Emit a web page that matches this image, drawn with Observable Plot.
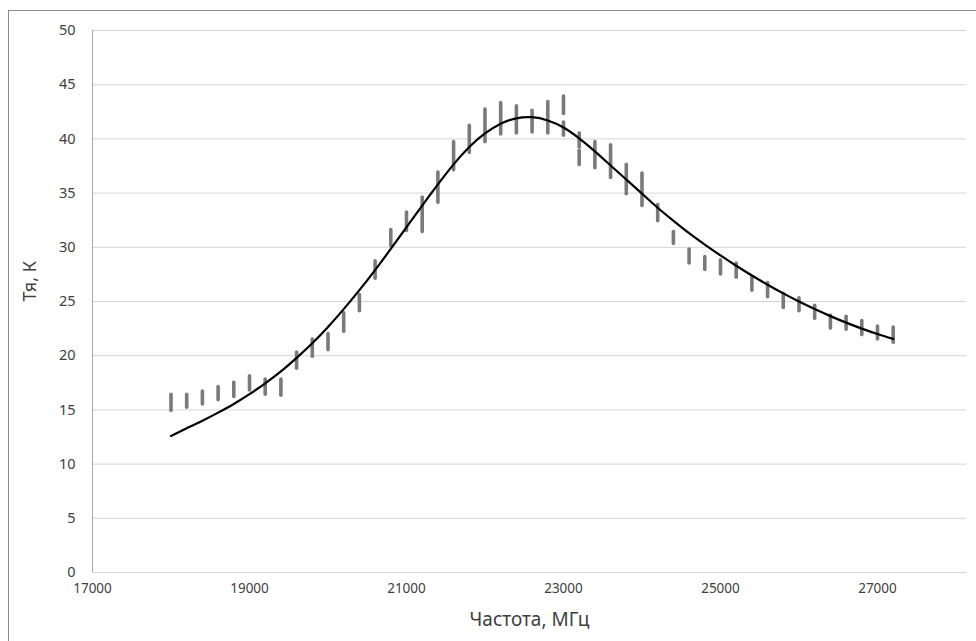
<!DOCTYPE html>
<html>
<head>
<meta charset="utf-8">
<script src="https://cdn.jsdelivr.net/npm/d3@7"></script>
<script src="https://cdn.jsdelivr.net/npm/@observablehq/plot@0.6"></script>
<style>
  html, body { margin: 0; padding: 0; background: #fff; }
  #wrap { position: relative; width: 976px; height: 641px; overflow: hidden; }
  #border { position: absolute; left: 8px; top: 10px; width: 976px; height: 640px; border: 1px solid #8c8c8c; box-sizing: border-box; pointer-events: none; }
</style>
</head>
<body>
<div id="wrap"><div id="border"></div></div>
<script>
// Frequencies of the measured points (MHz)
const barFreq = [18000, 18200, 18400, 18600, 18800, 19000, 19200, 19400, 19600, 19800,
  20000, 20200, 20400, 20600, 20800, 21000, 21200, 21400, 21600, 21800,
  22000, 22200, 22400, 22600, 22800, 23000, 23000, 23200, 23200, 23400,
  23600, 23800, 24000, 24200, 24400, 24600, 24800, 25000, 25200, 25400,
  25600, 25800, 26000, 26200, 26400, 26600, 26800, 27000, 27200];
const barLow = [14.9, 15.2, 15.5, 15.9, 16.2, 16.8, 16.4, 16.3, 18.8, 19.9,
  20.5, 22.2, 24.1, 27.1, 30.1, 31.5, 31.4, 34.1, 37.1, 38.7,
  39.7, 40.4, 40.5, 40.6, 40.5, 42.3, 40.3, 39.2, 37.6, 37.3,
  36.4, 34.9, 33.8, 32.4, 30.3, 28.5, 27.9, 27.5, 27.2, 26.0,
  25.4, 24.4, 24.1, 23.4, 22.5, 22.4, 21.9, 21.5, 21.2];
const barHigh = [16.4, 16.4, 16.7, 17.1, 17.5, 18.1, 17.8, 17.8, 20.3, 21.5,
  22.0, 23.9, 25.6, 28.7, 31.6, 33.2, 34.6, 36.9, 39.7, 41.2,
  42.7, 43.3, 43.0, 42.6, 43.4, 43.9, 41.5, 40.5, 38.9, 39.7,
  39.4, 37.6, 36.8, 33.9, 31.4, 29.8, 29.1, 28.8, 28.5, 27.2,
  26.7, 25.7, 25.3, 24.6, 23.7, 23.6, 23.2, 22.7, 22.6];

// Model curve
const curveFreq = [18000, 18200, 18400, 18600, 18800, 19000, 19200, 19400, 19600, 19800,
  20000, 20200, 20400, 20600, 20800, 21000, 21200, 21400, 21600, 21800,
  22000, 22200, 22400, 22600, 22800, 23000, 23200, 23400, 23600, 23800,
  24000, 24200, 24400, 24600, 24800, 25000, 25200, 25400, 25600, 25800,
  26000, 26200, 26400, 26600, 26800, 27000, 27200];
const curveT = [12.6, 13.3, 14.0, 14.75, 15.55, 16.45, 17.45, 18.55, 19.8, 21.15,
  22.65, 24.3, 26.05, 27.9, 29.85, 31.85, 33.85, 35.8, 37.65, 39.25,
  40.5, 41.4, 41.9, 42.0, 41.7, 41.05, 40.05, 38.85, 37.55, 36.25,
  34.95, 33.65, 32.45, 31.3, 30.25, 29.25, 28.3, 27.4, 26.55, 25.75,
  25.0, 24.3, 23.65, 23.05, 22.5, 22.0, 21.55];

const xTicks = [17000, 19000, 21000, 23000, 25000, 27000];
const yTicks = [0, 5, 10, 15, 20, 25, 30, 35, 40, 45, 50];
const xTitle = "Частота, МГц";
const yTitle = "Тя, К";

const bars = barFreq.map((f, i) => ({f, lo: barLow[i], hi: barHigh[i]}));
const curve = curveFreq.map((f, i) => ({f, t: curveT[i]}));

const chart = Plot.plot({
  width: 976,
  height: 641,
  marginLeft: 92,
  marginRight: 10,
  marginTop: 30,
  marginBottom: 69,
  x: {domain: [17000, 28134]},
  y: {domain: [0, 50]},
  style: {fontFamily: "'Noto Sans', sans-serif", fontSize: "14px", color: "#404040", background: "transparent"},
  marks: [
    Plot.ruleY(yTicks, {stroke: "#d4d4d4", strokeWidth: 1}),
    Plot.ruleX([17000], {stroke: "#a6a6a6", strokeWidth: 1}),
    Plot.axisY(yTicks, {tickSize: 0, tickPadding: 17, label: null, fontSize: 14.5, fill: "#404040"}),
    Plot.axisX(xTicks, {tickSize: 0, tickPadding: 11, label: null, fontSize: 13.5, fill: "#404040", tickFormat: d => String(d)}),
    Plot.ruleX(bars, {x: "f", y1: "lo", y2: "hi", stroke: "#7a7a7a", strokeWidth: 3.6, strokeLinecap: "round"}),
    Plot.line(curve, {x: "f", y: "t", stroke: "#000", strokeWidth: 2.2, curve: "natural"}),
    Plot.text([xTitle], {frameAnchor: "bottom", text: d => d, dy: 53, fontSize: 19, fill: "#404040"}),
    Plot.text([yTitle], {frameAnchor: "left", text: d => d, rotate: -90, dx: -62, fontSize: 18, fill: "#404040"})
  ]
});
document.getElementById("wrap").prepend(chart);
</script>
</body>
</html>
